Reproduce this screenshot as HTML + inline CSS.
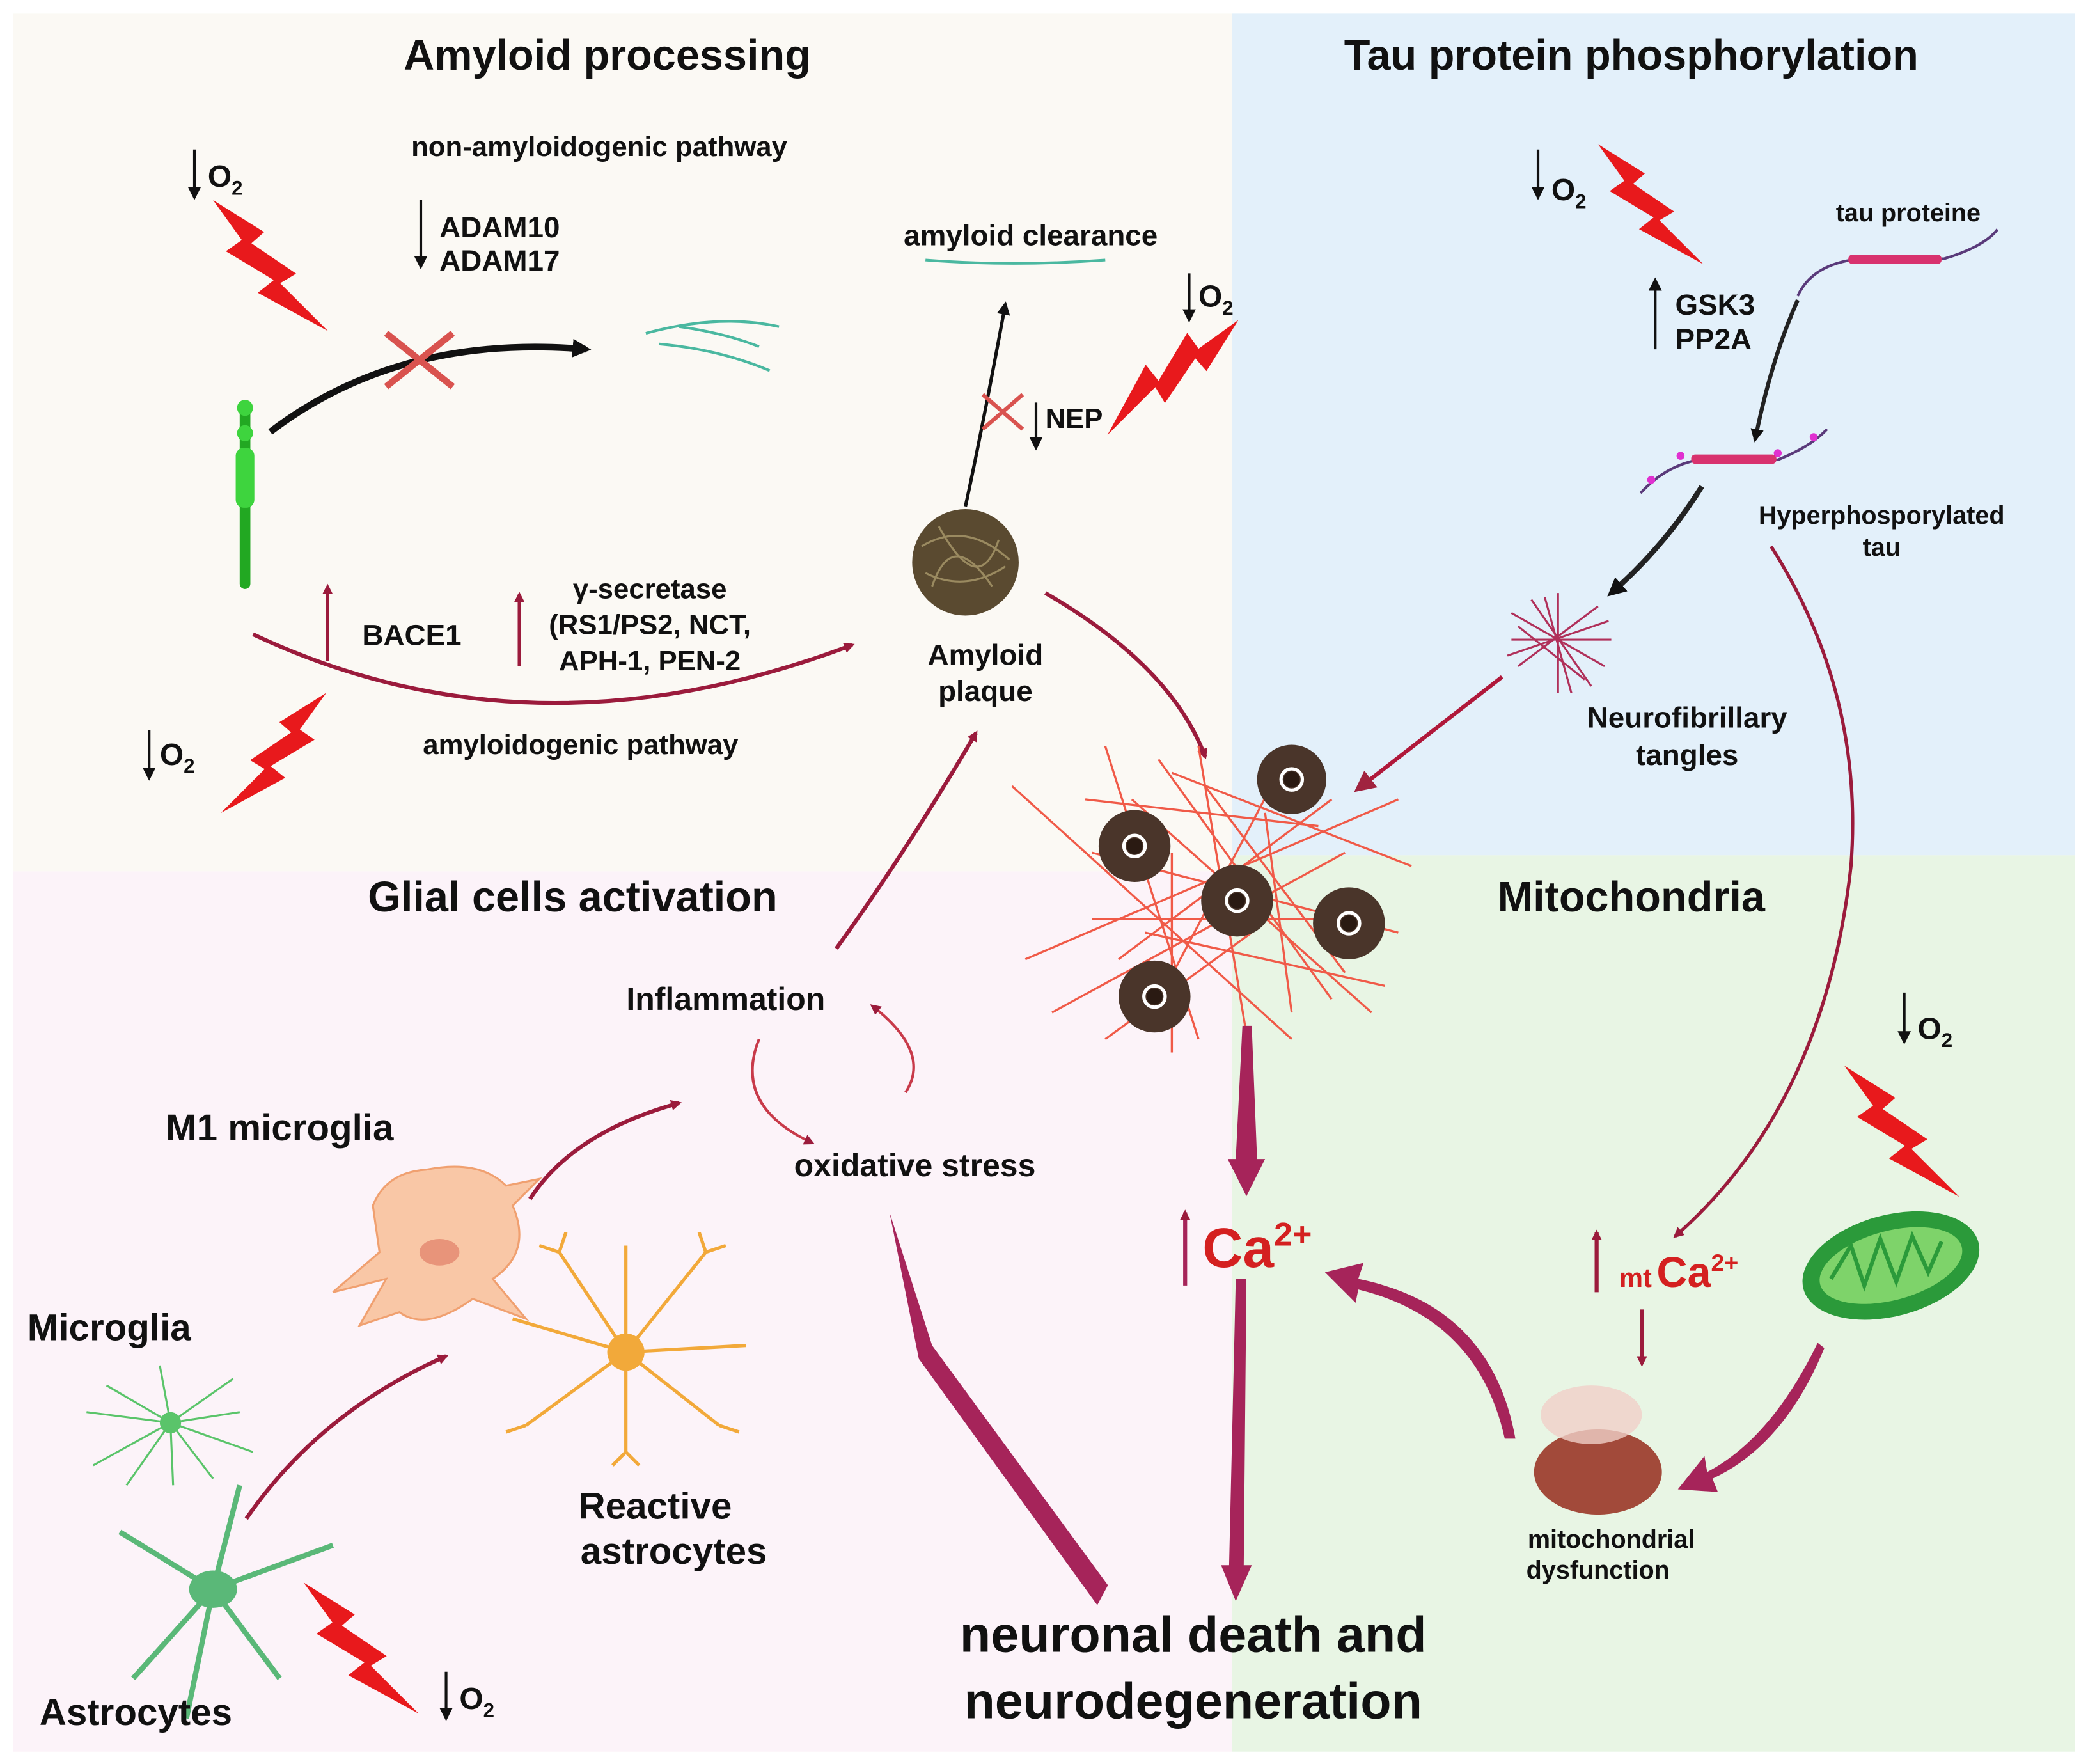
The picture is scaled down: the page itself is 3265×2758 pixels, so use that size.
<!DOCTYPE html>
<html><head><meta charset="utf-8"><style>
html,body{margin:0;padding:0;background:#fff}
svg{display:block}
text{font-family:"Liberation Sans",sans-serif;font-weight:bold;fill:#111}
</style></head><body>
<svg width="3265" height="2758" viewBox="0 0 1568 1324" xmlns="http://www.w3.org/2000/svg">
<defs>
<marker id="ar" markerWidth="8" markerHeight="8" refX="6" refY="4" orient="auto" markerUnits="userSpaceOnUse"><path d="M0,0 L8,4 L0,8 Z" fill="#9b1b3c"/></marker>
<marker id="ab" markerWidth="14" markerHeight="14" refX="10" refY="7" orient="auto" markerUnits="userSpaceOnUse"><path d="M0,0 L14,7 L0,14 Z" fill="#111"/></marker>
<marker id="ak" markerWidth="10" markerHeight="10" refX="8" refY="5" orient="auto" markerUnits="userSpaceOnUse"><path d="M0,0 L10,5 L0,10 Z" fill="#111"/></marker>
<marker id="ar2" markerWidth="16" markerHeight="16" refX="12" refY="8" orient="auto" markerUnits="userSpaceOnUse"><path d="M0,0 L16,8 L0,16 Z" fill="#a0233f"/></marker>
<g id="bolt"><path d="M0,0 L32,20 L24,27 L52,46 L42,52 L72,82 L28,58 L38,50 L8,32 L18,25 Z" fill="#e8191c"/></g>
</defs>
<rect x="10" y="10" width="915" height="644" fill="#fbf9f4"/>
<rect x="925" y="10" width="633" height="632" fill="#e3f0fa"/>
<rect x="10" y="654" width="915" height="661" fill="#fcf3f9"/>
<rect x="925" y="642" width="633" height="673" fill="#e8f5e4"/>

<text x="456" y="52" font-size="32" text-anchor="middle">Amyloid processing</text>
<text x="1225" y="52" font-size="32" text-anchor="middle">Tau protein phosphorylation</text>
<text x="430" y="684" font-size="32" text-anchor="middle">Glial cells activation</text>
<text x="1225" y="684" font-size="32" text-anchor="middle">Mitochondria</text>

<text x="450" y="117" font-size="21" text-anchor="middle">non-amyloidogenic pathway</text>
<text x="330" y="178" font-size="22">ADAM10</text>
<text x="330" y="203" font-size="22">ADAM17</text>
<line x1="316" y1="150" x2="316" y2="200" stroke="#111" stroke-width="2" marker-end="url(#ak)"/>
<line x1="146" y1="112" x2="146" y2="148" stroke="#111" stroke-width="2" marker-end="url(#ak)"/>
<text x="156" y="140" font-size="23">O<tspan font-size="15" dy="6">2</tspan></text>
<use href="#bolt" transform="translate(160,150) scale(1.2)"/>
<!-- APP -->
<rect x="180" y="300" width="8" height="142" rx="4" fill="#22a822"/>
<circle cx="184" cy="306" r="6" fill="#3ed43e"/><circle cx="184" cy="325" r="6" fill="#3ed43e"/>
<rect x="177" y="336" width="14" height="45" rx="6" fill="#3ed43e"/>
<path d="M203,324 Q300,250 440,262" fill="none" stroke="#111" stroke-width="5" marker-end="url(#ab)"/>
<path d="M290,250 L340,290 M290,290 L340,250" stroke="#d9534f" stroke-width="5"/>
<path d="M485,250 Q540,235 585,245 M495,258 Q540,262 578,278 M510,245 Q545,250 570,260" stroke="#4ab8a0" stroke-width="2" fill="none"/>
<path d="M190,476 Q400,575 640,484" fill="none" stroke="#9b1b3c" stroke-width="3" marker-end="url(#ar)"/>
<line x1="246" y1="496" x2="246" y2="440" stroke="#9b1b3c" stroke-width="2.5" marker-end="url(#ar)"/>
<text x="272" y="484" font-size="22">BACE1</text>
<line x1="390" y1="500" x2="390" y2="446" stroke="#9b1b3c" stroke-width="2.5" marker-end="url(#ar)"/>
<text x="488" y="449" font-size="21" text-anchor="middle">γ-secretase</text>
<text x="488" y="476" font-size="21" text-anchor="middle">(RS1/PS2, NCT,</text>
<text x="488" y="503" font-size="21" text-anchor="middle">APH-1, PEN-2</text>
<text x="436" y="566" font-size="21" text-anchor="middle">amyloidogenic pathway</text>
<line x1="112" y1="548" x2="112" y2="584" stroke="#111" stroke-width="2" marker-end="url(#ak)"/>
<text x="120" y="574" font-size="23">O<tspan font-size="15" dy="6">2</tspan></text>
<use href="#bolt" transform="translate(245,520) scale(1.1) scale(-1,1)"/>
<text x="774" y="184" font-size="22" text-anchor="middle">amyloid clearance</text>
<path d="M695,195 Q760,200 830,195" stroke="#4ab8a0" stroke-width="2" fill="none"/>
<path d="M725,380 Q738,320 755,228" fill="none" stroke="#111" stroke-width="2.5" marker-end="url(#ak)"/>
<path d="M738,296 L768,322 M738,322 L768,296" stroke="#d9534f" stroke-width="3"/>
<line x1="778" y1="302" x2="778" y2="336" stroke="#111" stroke-width="2" marker-end="url(#ak)"/>
<text x="785" y="321" font-size="21">NEP</text>
<line x1="893" y1="205" x2="893" y2="240" stroke="#111" stroke-width="2" marker-end="url(#ak)"/>
<text x="900" y="230" font-size="23">O<tspan font-size="15" dy="6">2</tspan></text>
<use href="#bolt" transform="translate(930,240) scale(1.2) rotate(90)"/>
<circle cx="725" cy="422" r="40" fill="#5a4a30"/>
<g stroke="#9a8a60" stroke-width="1.5" fill="none"><path d="M692,410 Q725,390 758,420 M695,430 Q725,445 755,425 M705,395 Q735,450 750,405 M700,440 Q715,395 745,440"/></g>
<text x="740" y="499" font-size="22" text-anchor="middle">Amyloid</text>
<text x="740" y="526" font-size="22" text-anchor="middle">plaque</text>
<path d="M785,445 Q880,500 905,568" fill="none" stroke="#9b1b3c" stroke-width="3" marker-end="url(#ar)"/>

<!-- Tau -->
<line x1="1155" y1="112" x2="1155" y2="148" stroke="#111" stroke-width="2" marker-end="url(#ak)"/>
<text x="1165" y="150" font-size="23">O<tspan font-size="15" dy="6">2</tspan></text>
<use href="#bolt" transform="translate(1200,108) scale(1.1)"/>
<line x1="1243" y1="262" x2="1243" y2="210" stroke="#111" stroke-width="2" marker-end="url(#ak)"/>
<text x="1258" y="236" font-size="22">GSK3</text>
<text x="1258" y="262" font-size="22">PP2A</text>
<text x="1433" y="166" font-size="19" text-anchor="middle">tau proteine</text>
<path d="M1350,222 Q1360,200 1390,195 L1460,194 Q1490,185 1500,172" stroke="#5a3a7a" stroke-width="2" fill="none"/>
<rect x="1388" y="191" width="70" height="7" rx="3" fill="#d8326e"/>
<path d="M1350,225 Q1330,270 1318,330" stroke="#222" stroke-width="3" fill="none" marker-end="url(#ak)"/>
<path d="M1232,370 Q1250,350 1275,345 L1335,345 Q1360,335 1372,322" stroke="#5a3a7a" stroke-width="2" fill="none"/>
<rect x="1270" y="341" width="64" height="7" rx="3" fill="#d8326e"/>
<circle cx="1240" cy="360" r="3" fill="#e030d0"/><circle cx="1262" cy="342" r="3" fill="#e030d0"/><circle cx="1362" cy="328" r="3" fill="#e030d0"/><circle cx="1335" cy="340" r="3" fill="#e030d0"/>
<text x="1413" y="393" font-size="19" text-anchor="middle">Hyperphosporylated</text>
<text x="1413" y="417" font-size="19" text-anchor="middle">tau</text>
<path d="M1278,365 Q1250,410 1210,445" stroke="#222" stroke-width="4" fill="none" marker-end="url(#ab)"/>
<g stroke="#b0305a" stroke-width="1.5" fill="none"><path d="M1135,460 L1205,500 M1140,500 L1200,455 M1170,445 L1170,520 M1135,480 L1210,480 M1150,450 L1195,515 M1140,470 L1190,510 M1160,448 L1180,520 M1132,492 L1208,466"/></g>
<text x="1267" y="546" font-size="22" text-anchor="middle">Neurofibrillary</text>
<text x="1267" y="574" font-size="22" text-anchor="middle">tangles</text>
<line x1="1128" y1="508" x2="1020" y2="592" stroke="#b0183a" stroke-width="3" marker-end="url(#ar2)"/>
<path d="M1330,410 Q1400,520 1390,650 Q1370,830 1258,928" fill="none" stroke="#9b1b3c" stroke-width="2.5" marker-end="url(#ar)"/>

<!-- central tangles -->
<g stroke="#f05a48" stroke-width="1.6" fill="none">
<path d="M760,590 L970,780 M770,720 L1050,600 M830,560 L900,780 M820,640 L1050,700 M870,570 L1000,750 M960,580 L860,770 M790,760 L1010,640 M900,560 L940,800 M820,690 L1040,690 M850,600 L1030,760 M880,580 L1060,650 M815,600 L990,620 M860,700 L1040,740 M950,610 L970,760 M830,780 L940,700 M880,640 L880,790 M905,590 L1010,730 M840,720 L1000,600"/>
</g>
<g fill="#4a352a">
<circle cx="970" cy="585" r="26"/><circle cx="852" cy="635" r="27"/><circle cx="929" cy="676" r="27"/><circle cx="1013" cy="693" r="27"/><circle cx="867" cy="748" r="27"/>
</g>
<g fill="#2a1a12"><circle cx="970" cy="585" r="6"/><circle cx="852" cy="635" r="6"/><circle cx="929" cy="676" r="6"/><circle cx="1013" cy="693" r="6"/><circle cx="867" cy="748" r="6"/></g>
<g fill="none" stroke="#fff" stroke-width="2.5"><circle cx="970" cy="585" r="8"/><circle cx="852" cy="635" r="8"/><circle cx="929" cy="676" r="8"/><circle cx="1013" cy="693" r="8"/><circle cx="867" cy="748" r="8"/></g>
<path d="M933,770 L940,770 L944,870 L950,870 L936,898 L922,870 L928,870 Z" fill="#a6245a"/>
<line x1="890" y1="965" x2="890" y2="910" stroke="#a6245a" stroke-width="3" marker-end="url(#ar)"/>
<text x="903" y="951" font-size="42" style="fill:#d42020">Ca<tspan font-size="25" dy="-16" style="fill:#d42020">2+</tspan></text>
<path d="M928,960 L936,960 L934,1175 L940,1175 L928,1202 L917,1175 L923,1175 Z" fill="#a6245a"/>
<path d="M1138,1080 Q1120,980 1020,960 L1024,948 L995,955 L1018,978 L1020,968 Q1110,990 1130,1080 Z" fill="#a6245a"/>
<text x="896" y="1240" font-size="38" text-anchor="middle">neuronal death and</text>
<text x="896" y="1290" font-size="38" text-anchor="middle">neurodegeneration</text>

<!-- mito -->
<line x1="1430" y1="745" x2="1430" y2="782" stroke="#111" stroke-width="2" marker-end="url(#ak)"/>
<text x="1440" y="780" font-size="23">O<tspan font-size="15" dy="6">2</tspan></text>
<use href="#bolt" transform="translate(1385,800) scale(1.2)"/>
<ellipse cx="1420" cy="950" rx="68" ry="38" transform="rotate(-15 1420 950)" fill="#2b9a3a"/>
<ellipse cx="1420" cy="950" rx="55" ry="26" transform="rotate(-15 1420 950)" fill="#7ed36a"/>
<path d="M1375,960 L1390,935 L1400,965 L1412,930 L1424,962 L1436,928 L1448,955 L1458,932" stroke="#2b9a3a" stroke-width="3" fill="none"/>
<line x1="1199" y1="970" x2="1199" y2="925" stroke="#9b1b3c" stroke-width="3" marker-end="url(#ar)"/>
<text x="1216" y="966" font-size="20" style="fill:#d42020">mt</text>
<text x="1244" y="966" font-size="32" style="fill:#d42020">Ca<tspan font-size="18" dy="-12" style="fill:#d42020">2+</tspan></text>
<line x1="1233" y1="983" x2="1233" y2="1024" stroke="#9b1b3c" stroke-width="3" marker-end="url(#ar)"/>
<ellipse cx="1200" cy="1105" rx="48" ry="32" fill="#a24a3a"/>
<ellipse cx="1195" cy="1062" rx="38" ry="22" fill="#f0d0c8" opacity="0.8"/>
<text x="1210" y="1162" font-size="19" text-anchor="middle">mitochondrial</text>
<text x="1200" y="1185" font-size="19" text-anchor="middle">dysfunction</text>
<path d="M1365,1008 Q1330,1080 1282,1105 L1280,1093 L1260,1118 L1290,1120 L1286,1110 Q1340,1085 1370,1012 Z" fill="#a6245a"/>

<!-- glial -->
<text x="545" y="758" font-size="24" text-anchor="middle">Inflammation</text>
<text x="687" y="883" font-size="24" text-anchor="middle">oxidative stress</text>
<path d="M570,780 Q550,830 610,858" fill="none" stroke="#c83a4a" stroke-width="2" marker-end="url(#ar)"/>
<path d="M680,820 Q700,790 655,755" fill="none" stroke="#c83a4a" stroke-width="2" marker-end="url(#ar)"/>
<path d="M628,712 Q680,640 733,550" fill="none" stroke="#9b1b3c" stroke-width="3" marker-end="url(#ar)"/>
<path d="M668,910 L700,1010 L832,1190 L824,1205 L690,1020 Z" fill="#a6245a"/>
<text x="210" y="856" font-size="28" text-anchor="middle">M1 microglia</text>
<path d="M280,905 Q290,880 320,878 Q360,870 380,890 L405,885 L385,905 Q400,940 370,960 L395,990 L355,975 Q320,1000 300,985 L270,995 L290,960 L250,970 L285,940 Z" fill="#f9c7a6" stroke="#f0a070" stroke-width="1.5"/>
<ellipse cx="330" cy="940" rx="15" ry="10" fill="#e8947a"/>
<path d="M398,900 Q430,850 510,828" fill="none" stroke="#9b1b3c" stroke-width="3" marker-end="url(#ar)"/>
<g stroke="#f2a93a" stroke-width="2.5" fill="none"><path d="M470,1015 L420,940 M470,1015 L530,940 M470,1015 L560,1010 M470,1015 L540,1070 M470,1015 L470,1090 M470,1015 L395,1070 M470,1015 L385,990 M470,1015 L470,935 M420,940 L405,935 M420,940 L425,925 M530,940 L545,935 M530,940 L525,925 M540,1070 L555,1075 M395,1070 L380,1075 M470,1090 L460,1100 M470,1090 L480,1100"/></g>
<circle cx="470" cy="1015" r="14" fill="#f2a93a"/>
<text x="492" y="1140" font-size="28" text-anchor="middle">Reactive</text>
<text x="506" y="1174" font-size="28" text-anchor="middle">astrocytes</text>
<text x="82" y="1006" font-size="28" text-anchor="middle">Microglia</text>
<g stroke="#5ac46a" stroke-width="1.5" fill="none"><path d="M128,1068 L80,1040 M128,1068 L175,1035 M128,1068 L190,1090 M128,1068 L70,1100 M128,1068 L130,1115 M128,1068 L120,1025 M128,1068 L65,1060 M128,1068 L180,1060 M128,1068 L95,1115 M128,1068 L160,1110"/></g>
<circle cx="128" cy="1068" r="8" fill="#5ac46a"/>
<g stroke="#5ab878" stroke-width="4" fill="none"><path d="M160,1193 L90,1150 M160,1193 L180,1115 M160,1193 L250,1160 M160,1193 L210,1260 M160,1193 L100,1260 M160,1193 L140,1290"/></g>
<ellipse cx="160" cy="1193" rx="18" ry="14" fill="#5ab878"/>
<path d="M185,1140 Q240,1060 335,1018" fill="none" stroke="#9b1b3c" stroke-width="3" marker-end="url(#ar)"/>
<text x="102" y="1295" font-size="28" text-anchor="middle">Astrocytes</text>
<use href="#bolt" transform="translate(228,1188) scale(1.2)"/>
<line x1="335" y1="1255" x2="335" y2="1290" stroke="#111" stroke-width="2" marker-end="url(#ak)"/>
<text x="345" y="1283" font-size="23">O<tspan font-size="15" dy="6">2</tspan></text>
</svg>
</body></html>
